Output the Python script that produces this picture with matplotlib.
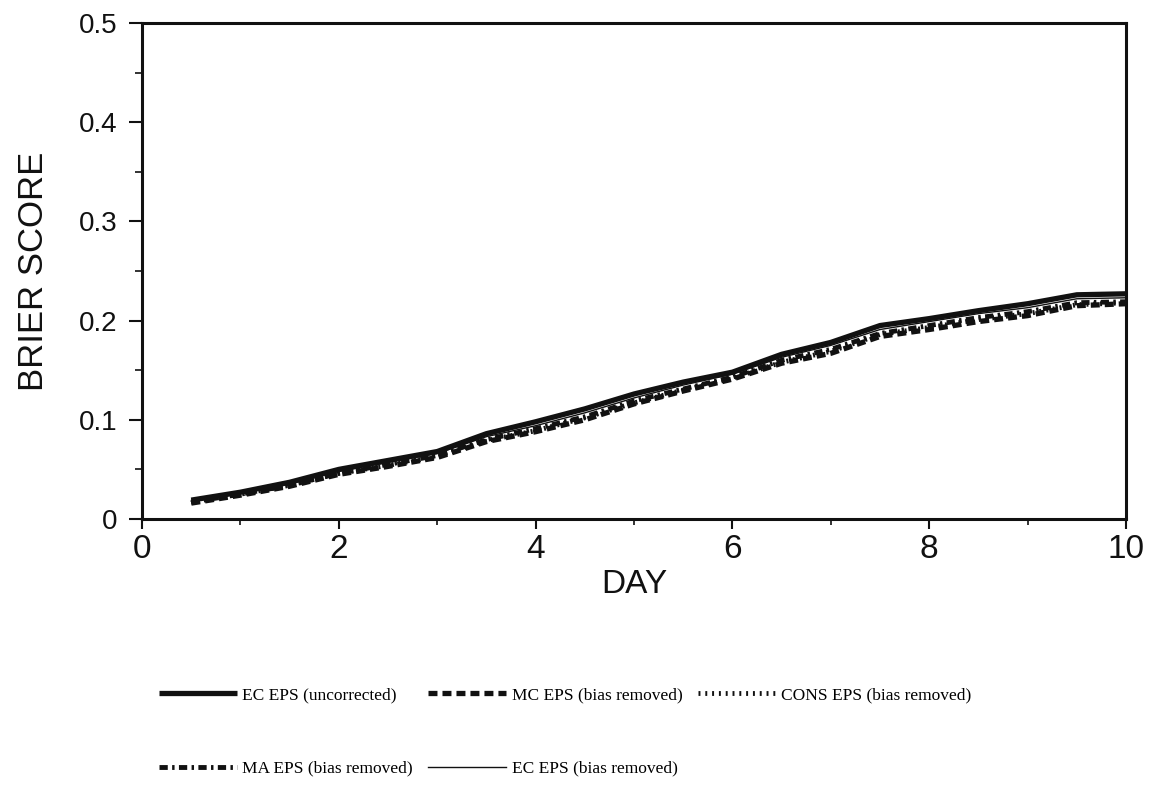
import matplotlib
matplotlib.use("Agg")
import matplotlib.pyplot as plt
from matplotlib.ticker import MultipleLocator, FuncFormatter

days = [0.5, 1.0, 1.5, 2.0, 2.5, 3.0, 3.5, 4.0, 4.5, 5.0,
        5.5, 6.0, 6.5, 7.0, 7.5, 8.0, 8.5, 9.0, 9.5, 10.0]

ec_uncorr = [0.019, 0.027, 0.037, 0.050, 0.059, 0.068, 0.086, 0.098, 0.111, 0.126,
             0.138, 0.148, 0.166, 0.178, 0.195, 0.202, 0.210, 0.217, 0.226, 0.227]
mc_bias = [0.016, 0.024, 0.033, 0.045, 0.053, 0.062, 0.078, 0.088, 0.100, 0.116,
           0.129, 0.141, 0.157, 0.167, 0.184, 0.191, 0.199, 0.205, 0.215, 0.217]
cons_bias = [0.017, 0.025, 0.034, 0.046, 0.054, 0.063, 0.079, 0.089, 0.102, 0.117,
             0.130, 0.142, 0.158, 0.169, 0.186, 0.193, 0.201, 0.207, 0.216, 0.218]
ma_bias = [0.017, 0.025, 0.034, 0.046, 0.055, 0.064, 0.080, 0.091, 0.103, 0.119,
           0.131, 0.143, 0.160, 0.171, 0.187, 0.195, 0.203, 0.209, 0.218, 0.219]
ec_bias = [0.018, 0.026, 0.036, 0.048, 0.057, 0.066, 0.083, 0.094, 0.107, 0.122,
           0.135, 0.146, 0.163, 0.175, 0.191, 0.199, 0.207, 0.213, 0.222, 0.223]

labels = ["EC EPS (uncorrected)", "MC EPS (bias removed)", "CONS EPS (bias removed)",
          "MA EPS (bias removed)", "EC EPS (bias removed)"]

ink = "#111111"
plt.rcParams['font.family'] = ['Liberation Sans', 'DejaVu Sans']

fig = plt.figure(figsize=(11.53, 8.07), dpi=100)
ax = fig.add_axes([0.1232, 0.3569, 0.8534, 0.6146])

h_cons, = ax.plot(days, cons_bias, color=ink, lw=3.5, dashes=(0.4, 1.0))
h_ma, = ax.plot(days, ma_bias, color=ink, lw=3.5, dashes=(1.7, 0.9, 0.5, 0.9))
h_mc, = ax.plot(days, mc_bias, color=ink, lw=3.8, dashes=(1.7, 0.95))
h_ecb, = ax.plot(days, ec_bias, color=ink, lw=1.0)
h_ec, = ax.plot(days, ec_uncorr, color=ink, lw=3.8, solid_capstyle='butt')

ax.set_xlim(0, 10)
ax.set_ylim(0, 0.5)
ax.xaxis.set_major_locator(MultipleLocator(2))
ax.xaxis.set_minor_locator(MultipleLocator(1))
ax.yaxis.set_major_locator(MultipleLocator(0.1))
ax.yaxis.set_minor_locator(MultipleLocator(0.05))
ax.yaxis.set_major_formatter(FuncFormatter(lambda v, p: "0" if abs(v) < 1e-9 else "%.1f" % v))

for s in ax.spines.values():
    s.set_linewidth(2.2)
    s.set_color(ink)

ax.tick_params(axis='y', which='major', direction='out', length=9.5, width=1.5,
               labelsize=20, colors=ink, pad=8)
ax.tick_params(axis='x', which='major', direction='out', length=7.5, width=1.5,
               labelsize=24, colors=ink, pad=3)
ax.tick_params(axis='y', which='minor', direction='out', length=5, width=1.2, colors=ink)
ax.tick_params(axis='x', which='minor', direction='out', length=4, width=1.2, colors=ink)

ax.set_xlabel("DAY", fontsize=24, labelpad=3, color=ink)
ax.set_ylabel("BRIER SCORE", fontsize=25, labelpad=21, color=ink)

handles = [h_ec, h_ma, h_mc, h_ecb, h_cons]
leg_labels = [labels[0], labels[3], labels[1], labels[4], labels[2]]
fig.legend(handles, leg_labels, loc='upper left', bbox_to_anchor=(0.124, 0.168),
           ncol=3, frameon=False, handlelength=4.5, handletextpad=0.3,
           columnspacing=0.9, labelspacing=3.3,
           prop={'family': 'Liberation Serif', 'size': 12.5})

fig.savefig("out.png", dpi=100)
